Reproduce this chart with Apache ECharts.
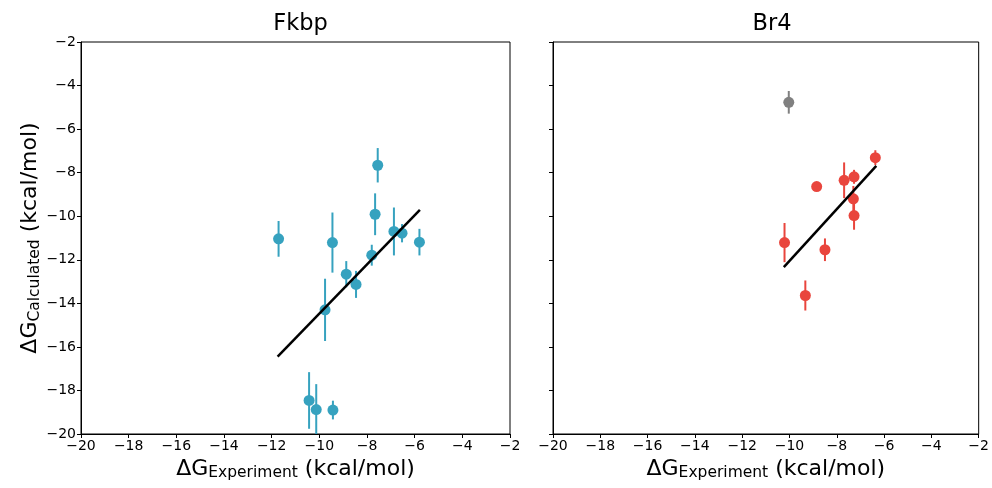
<!DOCTYPE html>
<html>
<head>
<meta charset="utf-8">
<script src="https://cdn.jsdelivr.net/npm/echarts@6/dist/echarts.min.js"></script>
<style>html,body{margin:0;padding:0;background:#fff}#c{width:992px;height:488px}</style>
</head>
<body>
<div id="c"></div>
<script>
// Fkbp panel data: [experiment, calculated, error]
const fkbpExp  = [-11.71, -9.45, -7.55, -7.66, -6.87, -6.53, -5.80, -7.80, -8.87, -8.46, -9.76, -10.43, -10.13, -9.43];
const fkbpCalc = [-11.04, -11.21, -7.66, -9.91, -10.70, -10.78, -11.19, -11.79, -12.66, -13.13, -14.30, -18.46, -18.88, -18.90];
const fkbpErr  = [0.82, 1.38, 0.79, 0.96, 1.10, 0.42, 0.61, 0.48, 0.60, 0.62, 1.43, 1.30, 1.17, 0.43];
const fkbpFitX = [-11.75, -5.78];
const fkbpFitY = [-16.45, -9.71];

// Br4 panel data
const br4Exp  = [-6.37, -7.27, -7.69, -8.85, -7.30, -7.27, -10.21, -8.50, -9.33];
const br4Calc = [-7.31, -8.19, -8.35, -8.64, -9.20, -9.97, -11.21, -11.54, -13.64];
const br4Err  = [0.34, 0.32, 0.82, 0.08, 0.59, 0.65, 0.90, 0.52, 0.69];
const br4OutExp  = [-10.03];
const br4OutCalc = [-4.77];
const br4OutErr  = [0.52];
const br4FitX = [-10.24, -6.33];
const br4FitY = [-12.34, -7.69];

const titles = ['Fkbp', 'Br4'];
const axMin = -20, axMax = -2, axStep = 2;

const teal = '#36a2bf', red = '#e9453d', gray = '#808080';
const FONT = 'DejaVu Sans';

function pts(xs, ys, es) { return xs.map((x, i) => [x, ys[i], es[i]]); }

function errSeries(data, color, idx) {
  return {
    type: 'custom', xAxisIndex: idx, yAxisIndex: idx, clip: true, z: 2,
    data: data,
    encode: { x: 0, y: 1 },
    renderItem: function (params, api) {
      const x = api.value(0), y = api.value(1), e = api.value(2);
      const p1 = api.coord([x, y + e]);
      const p2 = api.coord([x, y - e]);
      return {
        type: 'line',
        shape: { x1: p1[0], y1: p1[1], x2: p2[0], y2: p2[1] },
        style: { stroke: color, lineWidth: 2 }
      };
    }
  };
}
function scatterSeries(data, color, idx) {
  return {
    type: 'scatter', xAxisIndex: idx, yAxisIndex: idx, z: 3,
    symbolSize: 11, itemStyle: { color: color, opacity: 1 },
    data: data.map(d => [d[0], d[1]]), silent: true
  };
}
function fitSeries(xs, ys, idx) {
  return {
    type: 'line', xAxisIndex: idx, yAxisIndex: idx, z: 4, symbol: 'none',
    lineStyle: { color: '#000', width: 2.5 }, silent: true,
    data: xs.map((x, i) => [x, ys[i]])
  };
}

const rich = {
  a: { fontSize: 22, fontFamily: FONT, color: '#000' },
  b: { fontSize: 15.5, fontFamily: FONT, color: '#000', verticalAlign: 'bottom', padding: [9, 0, 0, 0] }
};

function fmt(v) { return String(v).replace('-', '\u2212'); }

function xAxis(idx) {
  return {
    type: 'value', gridIndex: idx, min: axMin, max: axMax, interval: axStep,
    name: '{a|ΔG}{b|Experiment}{a| (kcal/mol)}',
    nameLocation: 'middle', nameGap: 22,
    nameTextStyle: { rich: rich },
    axisLine: { show: true, onZero: false, lineStyle: { color: '#000', width: 1 } },
    axisTick: { show: true, inside: false, length: 4, lineStyle: { color: '#000' } },
    axisLabel: { show: true, fontSize: 14, fontFamily: FONT, color: '#000', margin: 5, formatter: fmt },
    splitLine: { show: false }
  };
}
function yAxis(idx, showLabel) {
  return {
    type: 'value', gridIndex: idx, min: axMin, max: axMax, interval: axStep,
    name: showLabel ? '{a|ΔG}{b|Calculated}{a| (kcal/mol)}' : '',
    nameLocation: 'middle', nameGap: 36,
    nameTextStyle: { rich: rich },
    axisLine: { show: true, onZero: false, lineStyle: { color: '#000', width: 1 } },
    axisTick: { show: true, inside: false, length: 4, lineStyle: { color: '#000' } },
    axisLabel: { show: showLabel, fontSize: 14, fontFamily: FONT, color: '#000', margin: 5, formatter: fmt },
    splitLine: { show: false }
  };
}

const fk = pts(fkbpExp, fkbpCalc, fkbpErr);
const br = pts(br4Exp, br4Calc, br4Err);
const bo = pts(br4OutExp, br4OutCalc, br4OutErr);

const titleStyle = { fontSize: 22.5, fontWeight: 'normal', fontFamily: FONT, color: '#000' };
const chart = echarts.init(document.getElementById('c'), null, { renderer: 'canvas' });
chart.setOption({
  animation: false,
  backgroundColor: '#fff',
  title: [
    { text: titles[0], left: 295.5, top: 8, textAlign: 'center', textStyle: titleStyle },
    { text: titles[1], left: 767, top: 8, textAlign: 'center', textStyle: titleStyle }
  ],
  grid: [
    { left: 81, top: 42, width: 429, height: 392, show: true, borderColor: '#000', borderWidth: 1, backgroundColor: 'transparent' },
    { left: 553, top: 42, width: 428, height: 392, show: true, borderColor: '#000', borderWidth: 1, backgroundColor: 'transparent' }
  ],
  xAxis: [xAxis(0), xAxis(1)],
  yAxis: [yAxis(0, true), yAxis(1, false)],
  series: [
    errSeries(fk, teal, 0), scatterSeries(fk, teal, 0), fitSeries(fkbpFitX, fkbpFitY, 0),
    errSeries(br, red, 1), scatterSeries(br, red, 1),
    errSeries(bo, gray, 1), scatterSeries(bo, gray, 1),
    fitSeries(br4FitX, br4FitY, 1)
  ]
});
</script>
</body>
</html>
